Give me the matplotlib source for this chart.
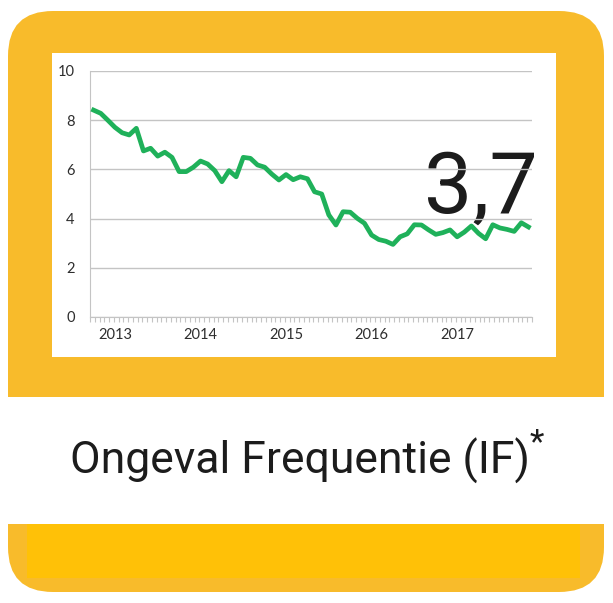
import numpy as np
import matplotlib.pyplot as plt
from matplotlib.patches import FancyBboxPatch, Rectangle

# monthly accident frequency (IF), one value per month
if_values = [8.41, 8.28, 8.00, 7.71, 7.49, 7.40, 7.67, 6.75, 6.86, 6.54,
             6.70, 6.49, 5.91, 5.91, 6.09, 6.34, 6.22, 5.95, 5.50, 5.95,
             5.70, 6.49, 6.45, 6.18, 6.09, 5.81, 5.57, 5.79, 5.58, 5.70,
             5.62, 5.09, 5.00, 4.15, 3.74, 4.28, 4.26, 4.01, 3.81, 3.33,
             3.15, 3.08, 2.95, 3.26, 3.38, 3.75, 3.74, 3.54, 3.36, 3.43,
             3.54, 3.26, 3.45, 3.70, 3.40, 3.18, 3.75, 3.62, 3.56, 3.48,
             3.83, 3.66]
year_labels = ['2013', '2014', '2015', '2016', '2017']
year_index = [3, 15, 27, 39, 51]
y_ticks = [0, 2, 4, 6, 8, 10]
big_value = '3,7'
title = 'Ongeval Frequentie (IF)'

orange = '#f8bb2b'
orange_dark = '#ffc107'
green = '#1fb15a'
grid_grey = '#c4c4c4'

fig = plt.figure(figsize=(6.13, 6.03), dpi=100)

# background in pixel coordinates
bg = fig.add_axes([0, 0, 1, 1])
bg.set_xlim(0, 613)
bg.set_ylim(603, 0)
bg.axis('off')

bg.add_patch(FancyBboxPatch((8 + 45, 11 + 45), 596 - 90, 430 - 90,
                            boxstyle='round,pad=45', fc=orange, ec='none'))
bg.add_patch(FancyBboxPatch((8 + 45, 470 + 45), 596 - 90, 122 - 90,
                            boxstyle='round,pad=45', fc=orange, ec='none'))
bg.add_patch(Rectangle((0, 397), 613, 127, fc='white', ec='none'))
bg.add_patch(Rectangle((27, 524), 553, 54, fc=orange_dark, ec='none'))
bg.add_patch(Rectangle((52, 53), 504, 304, fc='white', ec='none'))

bg.text(300, 474, title, ha='center', va='baseline', fontsize=32,
        family='Roboto', color='#1c1c1c')
bg.text(537, 452, '*', ha='center', va='baseline', fontsize=24,
        family='Roboto', color='#1c1c1c')
bg.text(481, 213, big_value, ha='center', va='baseline', fontsize=62,
        family='Roboto', color='#1c1c1c')

# line chart
ax = fig.add_axes([90 / 613, (603 - 317) / 603, 442 / 613, 246 / 603])
ax.set_facecolor('none')
x = np.arange(len(if_values))
ax.plot(x, if_values, color=green, lw=3.4, solid_joinstyle='round', zorder=3)

ax.set_xlim(-0.5, len(if_values) - 0.5)
ax.set_ylim(0, 10)
ax.set_yticks(y_ticks)
ax.set_yticklabels([str(t) for t in y_ticks])
ax.yaxis.grid(True, color=grid_grey, lw=1)
ax.set_axisbelow(True)

ax.set_xticks(year_index)
ax.set_xticklabels(year_labels)
ax.set_xticks(np.arange(-0.5, len(if_values) - 0.4, 2 / 3), minor=True)
ax.tick_params(axis='x', which='major', length=0, pad=8)
ax.tick_params(axis='x', which='minor', length=3.5, color=grid_grey, width=0.8)
ax.tick_params(axis='y', length=0, pad=11)
for lab in ax.get_xticklabels() + ax.get_yticklabels():
    lab.set_fontsize(10.5)
    lab.set_family('Lato')
    lab.set_color('#2e2e2e')

ax.spines[['top', 'right']].set_visible(False)
ax.spines['left'].set_color(grid_grey)
ax.spines['bottom'].set_color(grid_grey)

fig.savefig('out.png', dpi=100)
